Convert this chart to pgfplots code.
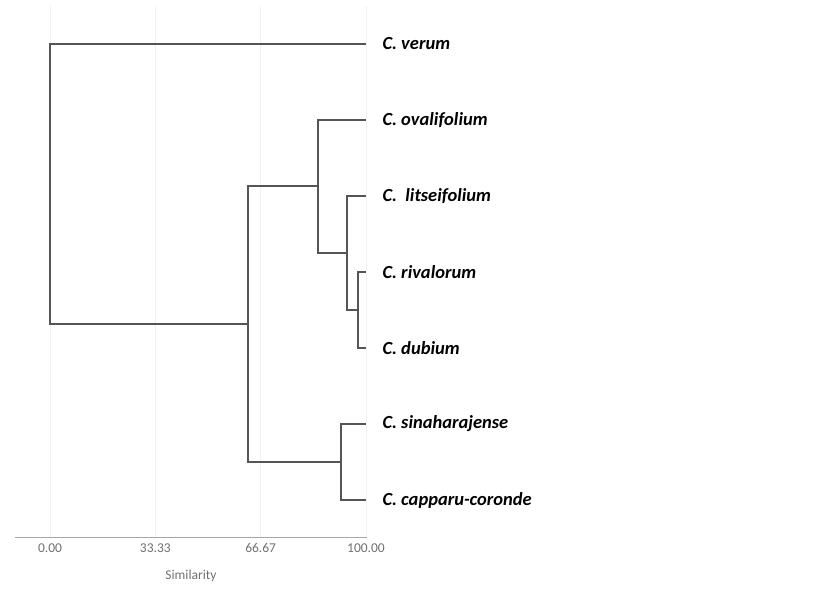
\documentclass[border=0pt]{standalone}
\usepackage{pgfplots}
\pgfplotsset{compat=1.18}
\usepackage{fontspec}
\setmainfont{Carlito}
\definecolor{tree}{HTML}{555555}
\definecolor{tickgray}{HTML}{707070}
\begin{document}
\begin{tikzpicture}
\useasboundingbox (0,0) rectangle (834bp,590bp);
\begin{axis}[
  at={(15bp,53bp)}, anchor=south west,
  scale only axis, width=352bp, height=531bp,
  xmin=-11.08, xmax=100.32,
  ymin=0.5, ymax=7.487, y dir=reverse,
  axis x line*=bottom, axis y line*=right,
  x axis line style={draw=black!35, line width=0.8bp, -},
  y axis line style={draw=none},
  xtick={0,33.33,66.67,100}, xticklabels={0.00,33.33,66.67,100.00},
  major tick length=0pt,
  xmajorgrids, grid style={draw=black!5, line width=0.6bp},
  ytick={1,2,3,4,5,6,7},
  yticklabels={C. verum, C. ovalifolium, C.\ \ litseifolium, C. rivalorum, C. dubium, C. sinaharajense, C. capparu-coronde},
  yticklabel style={font=\fontsize{18.5bp}{21bp}\selectfont\bfseries\itshape, text=black, anchor=west, xshift=12bp},
  xticklabel style={font=\fontsize{13.5bp}{15bp}\selectfont, text=tickgray, yshift=-3bp},
  /pgf/number format/assume math mode=true,
  xlabel={Similarity},
  xlabel style={font=\fontsize{13.5bp}{15bp}\selectfont, text=tickgray, yshift=-11bp},
  clip=false,
  no markers,
  every axis plot post/.append style={draw=tree, solid, line width=2bp, line join=miter, line cap=butt},
]
% rivalorum + dubium
\addplot coordinates {(100,4) (97.5,4) (97.5,5) (100,5)};
% litseifolium + (riv,dub)
\addplot coordinates {(100,3) (94,3) (94,4.5) (97.5,4.5)};
% ovalifolium + (lit,...)
\addplot coordinates {(100,2) (84.8,2) (84.8,3.75) (94,3.75)};
% sinaharajense + capparu-coronde
\addplot coordinates {(100,6) (92,6) (92,7) (100,7)};
% (ova..) + (sin,cap)
\addplot coordinates {(84.8,2.875) (62.8,2.875) (62.8,6.5) (92,6.5)};
% verum + rest
\addplot coordinates {(100,1) (0,1) (0,4.6875) (62.8,4.6875)};
\end{axis}
\end{tikzpicture}
\end{document}
